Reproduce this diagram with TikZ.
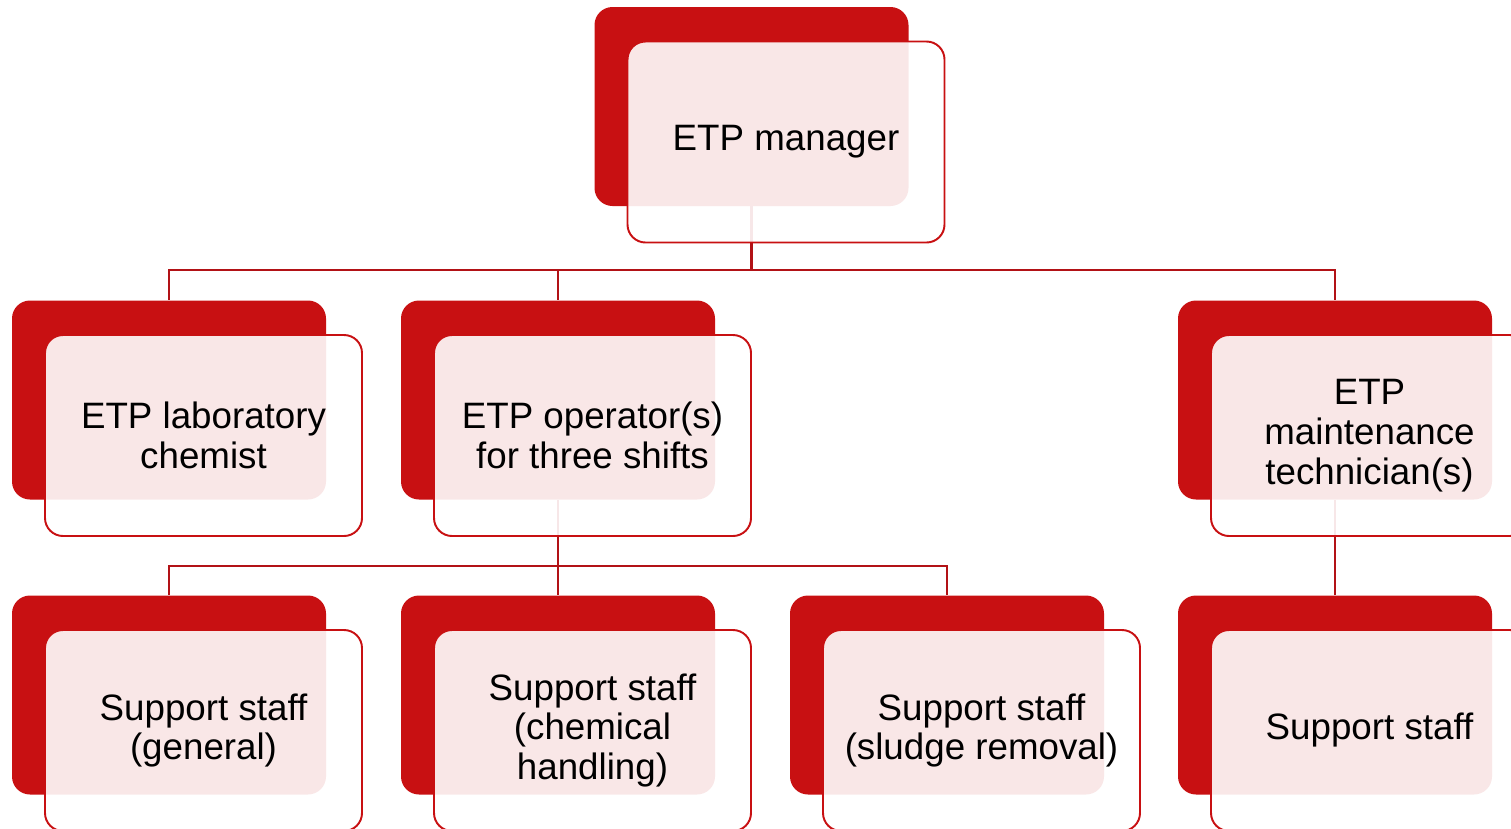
\documentclass[tikz,border=0pt]{standalone}
\usepackage{fontspec}
\setmainfont{Liberation Sans}
\usetikzlibrary{positioning}
\definecolor{etpred}{RGB}{200,16,18}
\definecolor{linered}{RGB}{178,18,22}

\begin{document}
\begin{tikzpicture}[
    back box/.style={draw=none,fill=etpred,rounded corners=0.36cm,
        minimum width=6.28cm,minimum height=3.98cm,inner sep=0pt},
    front box/.style={draw=etpred,line width=1.1pt,fill=white,fill opacity=0.9,
        text opacity=1,rounded corners=0.36cm,minimum width=6.34cm,
        minimum height=4.02cm,inner sep=0pt,align=center,
        font=\fontsize{20.9}{22.6}\selectfont},
    tree line/.style={draw=linered,line width=1.2pt},
    node distance=7.78cm,
]
\useasboundingbox (0,0) rectangle (30.22,-16.56);
% back cards
\node[back box] at (15.03,-2.13) (back-1-1) {};
\node[back box,below of=back-1-1,node distance=5.87cm,xshift=-11.65cm] (back-2-1) {};
\node[back box,right of=back-2-1] (back-2-2) {};
\node[back box,right of=back-2-2,node distance=15.54cm] (back-2-4) {};
\node[back box,below of=back-2-1,node distance=5.9cm] (back-3-1) {};
\node[back box,right of=back-3-1] (back-3-2) {};
\node[back box,right of=back-3-2] (back-3-3) {};
\node[back box,below of=back-2-4,node distance=5.9cm] (back-3-4) {};
% tree
\path[tree line]
    (back-1-1.south) -- ++(0,-1.28) -| (back-2-1.north)
    (back-1-1.south) -- ++(0,-1.28) -| (back-2-2.north)
    (back-1-1.south) -- ++(0,-1.28) -| (back-2-4.north)
    (back-2-2.south) -- ++(0,-1.32) -| (back-3-1.north)
    (back-2-2.south) -- ++(0,-1.32) -| (back-3-2.north)
    (back-2-2.south) -- ++(0,-1.32) -| (back-3-3.north)
    (back-2-4.south) -- (back-3-4.north);
% front cards
\node[front box,below of=back-1-1,node distance=0.71cm,xshift=0.69cm] (card-1-1) {ETP manager};
\node[front box,below of=back-2-1,node distance=0.71cm,xshift=0.69cm] (card-2-1) {ETP laboratory\\chemist};
\node[front box,below of=back-2-2,node distance=0.71cm,xshift=0.69cm] (card-2-2) {ETP operator(s)\\for three shifts};
\node[front box,below of=back-2-4,node distance=0.71cm,xshift=0.69cm] (card-2-4) {ETP\\maintenance\\technician(s)};
\node[front box,below of=back-3-1,node distance=0.71cm,xshift=0.69cm] (card-3-1) {Support staff\\(general)};
\node[front box,below of=back-3-2,node distance=0.71cm,xshift=0.69cm] (card-3-2) {Support staff\\(chemical\\handling)};
\node[front box,below of=back-3-3,node distance=0.71cm,xshift=0.69cm] (card-3-3) {Support staff\\(sludge removal)};
\node[front box,below of=back-3-4,node distance=0.71cm,xshift=0.69cm] (card-3-4) {Support staff};
\end{tikzpicture}
\end{document}
